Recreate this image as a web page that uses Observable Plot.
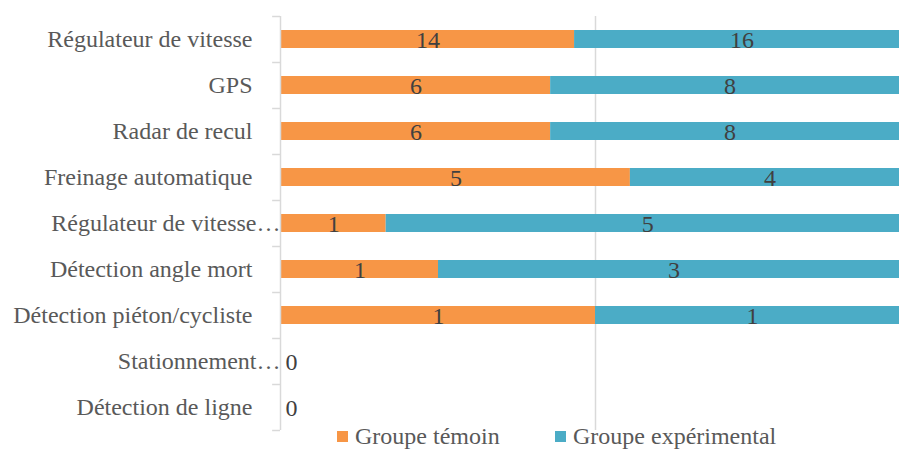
<!DOCTYPE html>
<html>
<head>
<meta charset="utf-8">
<script src="https://cdn.jsdelivr.net/npm/d3@7"></script>
<script src="https://cdn.jsdelivr.net/npm/@observablehq/plot@0.6"></script>
<style>
  html, body { margin: 0; padding: 0; background: #fff; }
  #wrap { position: relative; width: 899px; height: 449px; overflow: hidden; }
  #legend { position: absolute; top: 423px; left: 0; width: 899px; height: 26px; color: #595959; }
  #legend .item { position: absolute; top: 0; white-space: nowrap; }
  #legend .sw { position: absolute; top: 8px; width: 11px; height: 11px; }
  #legend .lb { position: absolute; left: 18px; top: 0; line-height: 26px; }
</style>
</head>
<body>
<div id="wrap">
  <div id="chart"></div>
  <div id="legend"></div>
</div>
<script>
// Aides à la conduite, nombre de participants par groupe
const categories = [
  "Régulateur de vitesse",
  "GPS",
  "Radar de recul",
  "Freinage automatique",
  "Régulateur de vitesse…",
  "Détection angle mort",
  "Détection piéton/cycliste",
  "Stationnement…",
  "Détection de ligne"
];
const groups = ["Groupe témoin", "Groupe expérimental"];
const temoin = [14, 6, 6, 5, 1, 1, 1, 0, 0];
const experimental = [16, 8, 8, 4, 5, 3, 1, 0, 0];
const colors = ["#F79646", "#4BACC6"];
// libellés coupés par le tableur, collés à l'axe
const truncated = ["Régulateur de vitesse…", "Stationnement…"];

const rows = [
  ...categories.map((c, i) => ({cat: c, group: groups[0], value: temoin[i]})),
  ...categories.map((c, i) => ({cat: c, group: groups[1], value: experimental[i]}))
];
const totals = categories.map((c, i) => ({cat: c, total: temoin[i] + experimental[i]}));
const zeroRows = totals.filter(d => d.total === 0);

const font = "Liberation Serif";
const fs = 24;
const grid = "#d9d9d9";

const chart = Plot.plot({
  width: 899,
  height: 449,
  marginTop: 16,
  marginBottom: 19,
  marginLeft: 281,
  marginRight: 0,
  style: {fontFamily: font, background: "#fff"},
  x: {domain: [0, 1], range: [281, 909], axis: null},
  y: {domain: categories, paddingInner: 0.6, paddingOuter: 0.3, axis: null},
  color: {domain: groups, range: colors},
  marks: [
    Plot.ruleX([0.5], {stroke: grid, strokeWidth: 1.5}),
    Plot.barX(rows, Plot.stackX({
      x: "value", y: "cat", fill: "group", offset: "normalize", order: null,
      filter: d => d.value > 0
    })),
    Plot.text(rows, Plot.stackX({
      x: "value", y: "cat", z: "group", text: "value", offset: "normalize", order: null,
      filter: d => d.value > 0, fill: "#404040", fontSize: fs, fontFamily: font, dy: 1
    })),
    Plot.text(zeroRows, {x: 0, y: "cat", text: d => String(d.total), dx: 10, fill: "#404040", fontSize: fs, fontFamily: font, dy: 1}),
    // axe vertical et graduations entre les catégories
    Plot.ruleX([0], {stroke: grid, strokeWidth: 1.5, dx: -1}),
    Plot.ruleY(categories, {y: d => d, x1: -0.0125, x2: 0, dx: -1, dy: -23, stroke: grid, strokeWidth: 1.5}),
    Plot.ruleY(categories.slice(-1), {y: d => d, x1: -0.0125, x2: 0, dx: -1, dy: 23, stroke: grid, strokeWidth: 1.5}),
    // libellés des catégories
    Plot.text(categories.filter(c => !truncated.includes(c)), {
      y: d => d, x: 0, text: d => d, textAnchor: "end", dx: -29, fill: "#595959", fontSize: fs, fontFamily: font
    }),
    Plot.text(truncated, {
      y: d => d, x: 0, text: d => d, textAnchor: "end", dx: -1, fill: "#595959", fontSize: fs, fontFamily: font
    })
  ]
});
document.getElementById("chart").appendChild(chart);

// légende sous le graphique
const legend = document.getElementById("legend");
legend.style.fontFamily = font;
legend.style.fontSize = fs + "px";
const lefts = [337, 555];
groups.forEach((g, i) => {
  const item = document.createElement("div");
  item.className = "item";
  item.style.left = lefts[i] + "px";
  const sw = document.createElement("div");
  sw.className = "sw";
  sw.style.background = colors[i];
  const lb = document.createElement("div");
  lb.className = "lb";
  lb.style.fontFamily = font;
  lb.textContent = g;
  item.appendChild(sw);
  item.appendChild(lb);
  legend.appendChild(item);
});
</script>
</body>
</html>
